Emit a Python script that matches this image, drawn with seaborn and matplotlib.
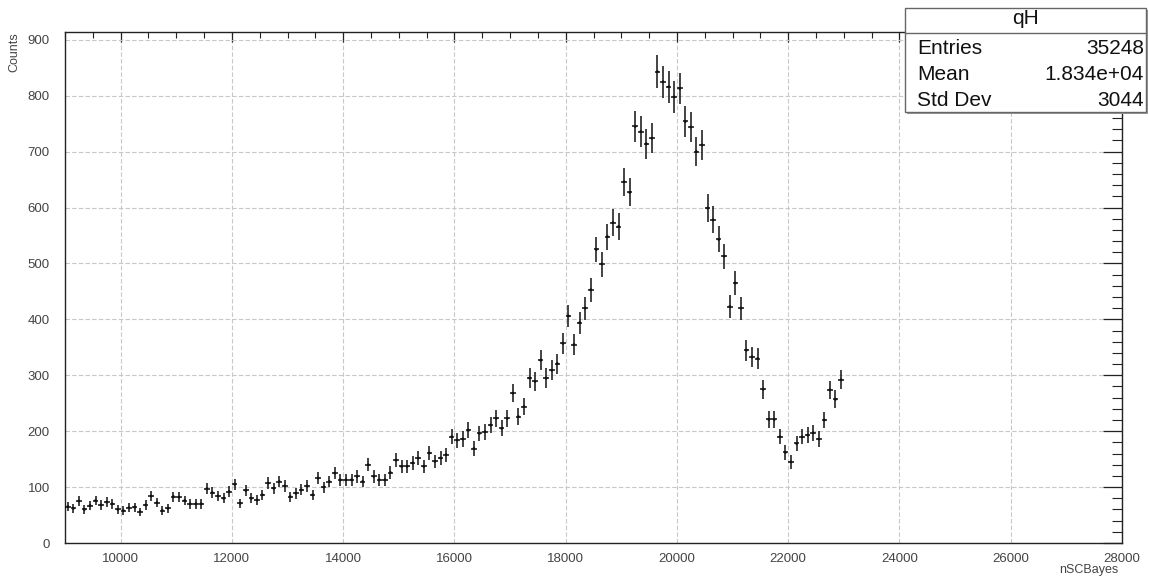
import numpy as np
import pandas as pd
import matplotlib
matplotlib.use("Agg")
import matplotlib.pyplot as plt
import matplotlib.patches as mpatches
from matplotlib.ticker import MultipleLocator
import seaborn as sns

# ---- data ----
bin_low = 9000
bin_width = 100
counts = [
    65, 62, 75, 60, 67, 76, 68, 73, 70, 60,
    58, 63, 64, 56, 68, 84, 72, 58, 62, 83,
    82, 76, 70, 70, 70, 97, 90, 84, 80, 92,
    105, 71, 94, 80, 77, 86, 107, 98, 110, 102,
    83, 89, 95, 102, 86, 116, 100, 110, 125, 113,
    113, 113, 119, 110, 140, 119, 113, 113, 126, 148,
    137, 137, 143, 152, 137, 161, 146, 152, 158, 190,
    184, 186, 202, 169, 196, 199, 211, 223, 205, 223,
    268, 226, 244, 295, 289, 327, 295, 309, 321, 357,
    406, 355, 394, 420, 453, 525, 499, 548, 573, 566,
    646, 627, 745, 736, 714, 724, 843, 825, 816, 798,
    813, 754, 744, 700, 712, 599, 578, 543, 513, 423,
    465, 420, 345, 333, 330, 275, 221, 221, 190, 162,
    145, 178, 190, 193, 197, 186, 220, 274, 257, 292,
]
x_ticks = [10000, 12000, 14000, 16000, 18000, 20000, 22000, 24000, 26000, 28000]
y_ticks = [0, 100, 200, 300, 400, 500, 600, 700, 800, 900]
stats_title = "qH"
stats_names = ["Entries", "Mean", "Std Dev"]
stats_values = ["35248", "1.834e+04", "3044"]
x_label = "nSCBayes"
y_label = "Counts"

centers = bin_low + bin_width * (np.arange(len(counts)) + 0.5)
df = pd.DataFrame({"x": centers, "count": counts})
df["err"] = np.sqrt(df["count"])

# ---- style ----
sns.set_theme(style="white")
plt.rcParams["font.family"] = ["Liberation Sans", "DejaVu Sans"]

W, H = 1149, 577
fig = plt.figure(figsize=(W / 100, H / 100), dpi=100)
ax_l, ax_r, ax_t, ax_b = 65, 1122, 32, 543
ax = fig.add_axes([ax_l / W, 1 - ax_b / H, (ax_r - ax_l) / W, (ax_b - ax_t) / H])

ax.errorbar(df["x"], df["count"], xerr=bin_width / 2, yerr=df["err"],
            fmt="none", ecolor="#111111", elinewidth=1.1, capsize=0, zorder=3)
sns.scatterplot(data=df, x="x", y="count", ax=ax, color="#111111", s=4,
                marker="o", edgecolor="none", zorder=4, legend=False)

ax.set_xlim(9000, 28000)
ax.set_ylim(0, 914)
ax.set_xticks(x_ticks)
ax.set_xticklabels([str(t) for t in x_ticks])
ax.set_yticks(y_ticks)
ax.set_yticklabels([str(t) for t in y_ticks])
ax.xaxis.set_minor_locator(MultipleLocator(500))
ax.yaxis.set_minor_locator(MultipleLocator(20))

ax.tick_params(axis="both", which="both", direction="in", top=True, right=True,
               colors="#222222", labelcolor="#444444", labelsize=9.5)
ax.tick_params(axis="x", which="major", length=7.5, width=0.9, pad=7)
ax.tick_params(axis="x", which="minor", length=4.5, width=0.8)
ax.tick_params(axis="y", which="major", length=14, width=0.9, pad=11)
ax.tick_params(axis="y", which="minor", length=7, width=0.8)

ax.grid(True, which="major", axis="both", color="#c8c8c8",
        linestyle=(0, (4, 2)), linewidth=0.8, zorder=0)
ax.set_axisbelow(True)
for s in ax.spines.values():
    s.set_color("#222222")
    s.set_linewidth(1.0)

ax.set_xlabel("")
ax.set_ylabel("")
# axis titles placed at the end of the axes, ROOT style
fig.text(1118 / W, 1 - 576 / H, x_label, ha="right", va="bottom",
         fontsize=9, color="#444444")
fig.text(14 / W, 1 - 32 / H, y_label, ha="center", va="top", rotation=90,
         fontsize=9, color="#444444")

# ---- statistics box ----
bx0, bx1, by0, by1 = 905, 1146, 8, 112
shadow = mpatches.Rectangle(((bx0 + 2) / W, 1 - (by1 + 2) / H),
                            (bx1 - bx0) / W, (by1 - by0) / H,
                            transform=fig.transFigure, facecolor="#9a9a9a",
                            edgecolor="none", zorder=9)
box = mpatches.Rectangle((bx0 / W, 1 - by1 / H), (bx1 - bx0) / W, (by1 - by0) / H,
                         transform=fig.transFigure, facecolor="white",
                         edgecolor="#666666", linewidth=1.0, zorder=10)
fig.patches.extend([shadow, box])
fig.add_artist(plt.Line2D([bx0 / W, bx1 / W], [1 - 33 / H, 1 - 33 / H],
                          transform=fig.transFigure, color="#666666",
                          linewidth=1.0, zorder=11))
fig.text((bx0 + bx1) / 2 / W, 1 - 19 / H, stats_title, ha="center", va="center",
         fontsize=15, color="#111111", zorder=12)
for i, (n, v) in enumerate(zip(stats_names, stats_values)):
    yy = 1 - (49 + 25.5 * i) / H
    fig.text(917 / W, yy, n, ha="left", va="center", fontsize=15,
             color="#111111", zorder=12)
    fig.text(1144 / W, yy, v, ha="right", va="center", fontsize=15,
             color="#111111", zorder=12)

fig.savefig("out.png", dpi=100)
